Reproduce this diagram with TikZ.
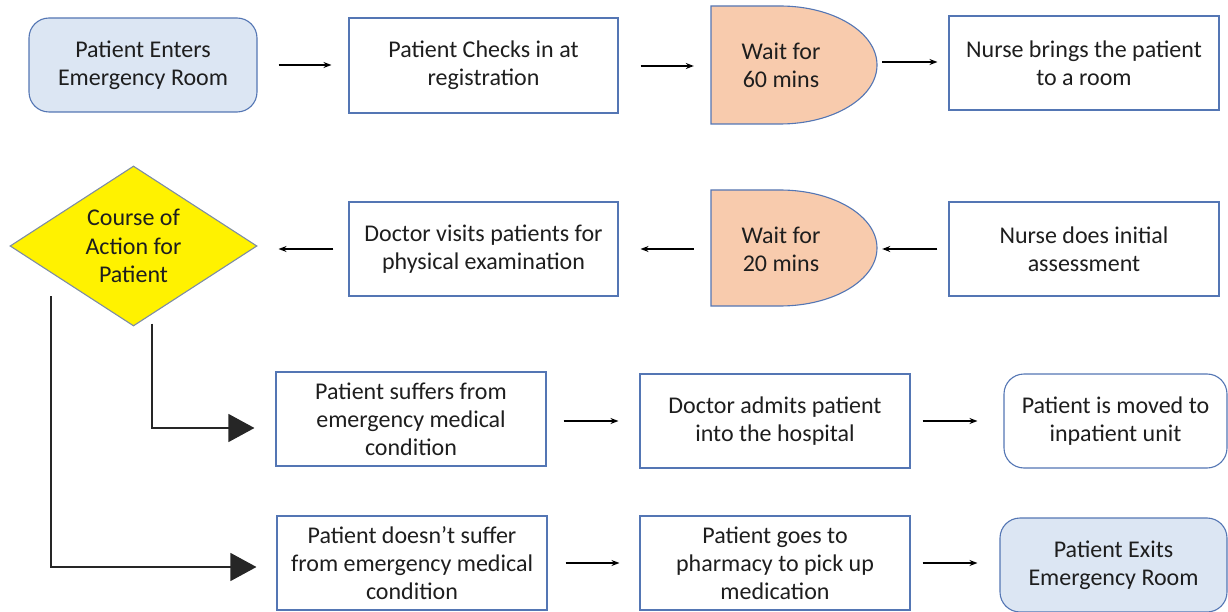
\documentclass[tikz,border=0pt]{standalone}
\usepackage{fontspec}
\setmainfont{Carlito}
\usetikzlibrary{shapes.geometric,arrows.meta,calc}
\definecolor{bord}{RGB}{84,118,180}
\definecolor{lblue}{RGB}{220,230,243}
\definecolor{peach}{RGB}{248,203,173}
\definecolor{dbord}{RGB}{125,140,165}
\definecolor{txt}{RGB}{30,30,30}
\begin{document}
\begin{tikzpicture}[x=1pt,y=-1pt,
  every node/.style={font=\fontsize{24}{28}\selectfont, text=txt, align=center, inner sep=0pt},
  box/.style={draw=bord, line width=1.1pt, fill=white, minimum width=270pt, minimum height=94pt},
  rbox/.style={box, rounded corners=20pt},
  bluebox/.style={rbox, fill=lblue},
  delaytxt/.style={minimum width=140pt, minimum height=118pt},
  delayshape/.style={draw=bord, line width=1.1pt, fill=peach},
  arr/.style={draw=black, line width=1.1pt, -{Stealth[length=8pt,width=6pt]}},
  bigarr/.style={draw=black!85, line width=1.2pt, -{Triangle[length=26pt,width=28pt]}}
]
\useasboundingbox (0,0) rectangle (1228,612);
% row 1
\node[bluebox, minimum width=228pt] (A) at (143,65) {Patient Enters\\Emergency Room};
\node[box, minimum width=269pt, minimum height=95pt] (B) at (483.5,65.5) {Patient Checks in at\\registration};
\draw[delayshape] (711,124) -- (711,6) -- (780,6) arc[start angle=90, end angle=-90, x radius=97, y radius=-59] -- cycle;
\node[delaytxt] (W1) at (781,65) {Wait for\\60 mins};
\node[box] (C) at (1084,63) {Nurse brings the patient\\to a room};
% row 2
\node[draw=dbord, line width=1.1pt, fill=yellow, shape=diamond, aspect=1.54, minimum width=247pt, minimum height=160pt] (dia) at (133.5,246) {};
\node at (133.5,246) {Course of\\[0.5pt]Action for\\[0.5pt]Patient};
\node[box, minimum width=269pt] (D) at (483.5,249) {Doctor visits patients for\\physical examination};
\draw[delayshape] (711,306) -- (711,190) -- (780,190) arc[start angle=90, end angle=-90, x radius=97, y radius=-58] -- cycle;
\node[delaytxt] (W2) at (781,249) {Wait for\\20 mins};
\node[box] (E) at (1084,249) {Nurse does initial\\assessment};
% row 3
\node[box] (F) at (411,419) {Patient suffers from\\emergency medical\\condition};
\node[box] (G) at (775,421) {Doctor admits patient\\into the hospital};
\node[rbox, minimum width=223pt] (H) at (1115.5,421) {Patient is moved to\\inpatient unit};
% row 4
\node[box] (I) at (412,563) {Patient doesn’t suffer\\from emergency medical\\condition};
\node[box] (J) at (775,563) {Patient goes to\\pharmacy to pick up\\medication};
\node[bluebox, minimum width=227pt] (K) at (1113.5,565) {Patient Exits\\Emergency Room};
% connectors
\draw[arr, shorten <=21pt, shorten >=17pt] (A.east) -- (A.east -| B.west);
\draw[arr, shorten <=22pt, shorten >=17pt] ($(B.east)+(0,0.5)$) -- ($(B.east -| W1.west)+(0,0.5)$);
\draw[arr, shorten <=31pt, shorten >=11pt] ($(W1.east)+(0,-3)$) -- ($(W1.east -| C.west)+(0,-3)$);
\draw[arr, shorten <=15pt, shorten >=21pt] (D.west) -- (D.west -| dia.east);
\draw[arr, shorten <=17pt, shorten >=22pt] (W2.west) -- (W2.west -| D.east);
\draw[arr, shorten <=11pt, shorten >=31pt] (E.west) -- (E.west -| W2.east);
\draw[arr, shorten <=17pt, shorten >=21pt] ($(F.east)+(0,2)$) -- ($(F.east -| G.west)+(0,2)$);
\draw[arr, shorten <=12pt, shorten >=26pt] (G.east) -- (G.east -| H.west);
\draw[arr, shorten <=18pt, shorten >=20pt] (I.east) -- (I.east -| J.west);
\draw[arr, shorten <=12pt, shorten >=22pt] (J.east) -- (J.east -| K.west);
\coordinate (e1) at ($(dia.south)+(18.5,-3)$);
\coordinate (e2) at ($(dia.center)+(-82.5,50)$);
\draw[bigarr, shorten >=21pt] (e1) |- ($(F.west)+(0,9)$);
\draw[bigarr, shorten >=20pt] (e2) |- ($(I.west)+(0,4)$);
\end{tikzpicture}
\end{document}
